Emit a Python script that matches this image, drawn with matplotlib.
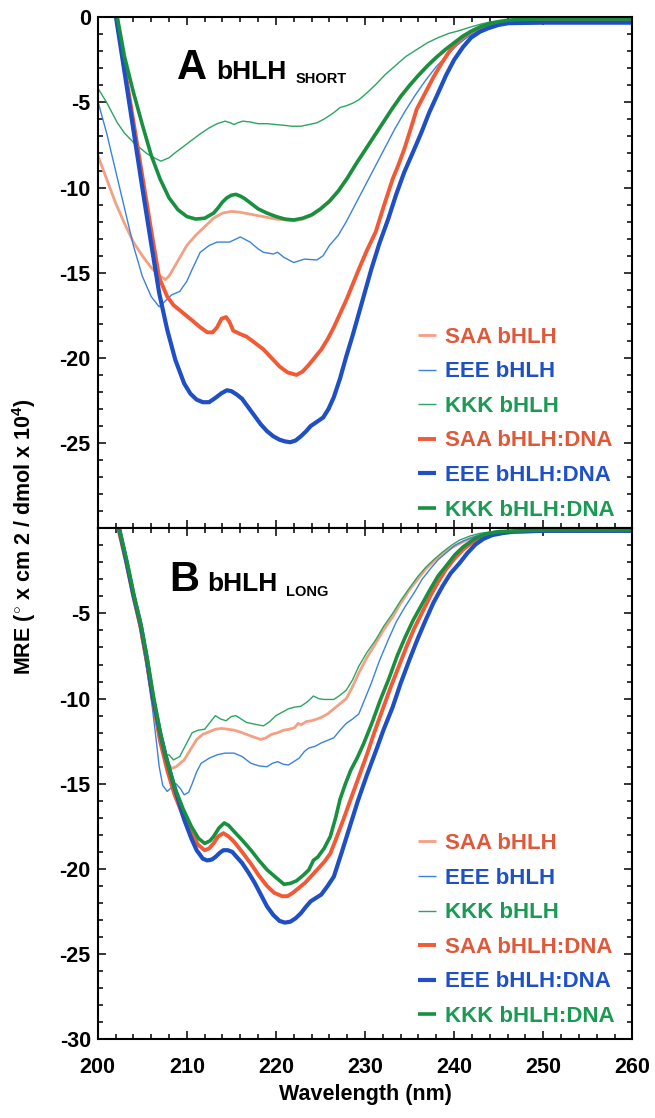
import matplotlib
matplotlib.use('Agg')
from matplotlib import pyplot as plt
from matplotlib.ticker import MultipleLocator, FixedLocator

plt.rcParams['font.family'] = ['Liberation Sans', 'DejaVu Sans']
plt.rcParams['font.weight'] = 'bold'
plt.rcParams['mathtext.fontset'] = 'custom'
plt.rcParams['mathtext.rm'] = 'Liberation Sans:bold'
plt.rcParams['mathtext.bf'] = 'Liberation Sans:bold'
plt.rcParams['mathtext.it'] = 'Liberation Sans:bold'

labels = ['SAA bHLH', 'EEE bHLH', 'KKK bHLH',
          'SAA bHLH:DNA', 'EEE bHLH:DNA', 'KKK bHLH:DNA']

# ---- panel A (bHLH short) ----
a_saa_x = [200, 201, 202, 203, 204, 205, 206, 207, 207.6, 208, 209, 210, 211, 212, 213, 214, 215, 216,
           217, 218, 219, 220, 221, 222, 223, 224, 225, 226, 227, 228, 229, 230, 231, 232, 233, 234,
           235, 236, 237, 238, 239, 240, 241, 242, 243, 244, 245, 246, 247, 248, 250, 255, 260]
a_saa_y = [-8.1, -9.5, -10.9, -12.1, -13.2, -14.0, -14.7, -15.2, -15.4, -15.2, -14.3, -13.4, -12.8, -12.3,
           -11.8, -11.5, -11.4, -11.45, -11.55, -11.65, -11.75, -11.85, -11.9, -11.95, -11.85, -11.65,
           -11.3, -10.85, -10.25, -9.5, -8.65, -7.85, -7.05, -6.25, -5.45, -4.7, -4.05, -3.45, -2.9,
           -2.4, -1.95, -1.55, -1.15, -0.85, -0.6, -0.42, -0.3, -0.2, -0.15, -0.12, -0.1, -0.1, -0.1]

a_eee_x = [200, 201, 202, 203, 204, 205, 206, 206.9, 207.5, 208.3, 209.2, 210, 210.6, 211.5, 212.5,
           213.4, 214.8, 216, 217.1, 218, 218.6, 219.7, 220.2, 220.9, 222, 223.2, 224.6, 225.3, 226,
           227, 227.9, 229, 229.8, 231, 232.1, 233.3, 234.4, 235.6, 236.8, 238, 239.1, 240.2, 241.4,
           242.6, 243.8, 245, 246.1, 247.5, 250, 260]
a_eee_y = [-4.9, -6.8, -9.0, -11.2, -13.4, -15.2, -16.4, -17.0, -16.7, -16.3, -16.1, -15.5, -14.8,
           -13.8, -13.4, -13.2, -13.2, -12.9, -13.2, -13.6, -13.8, -13.9, -13.8, -14.1, -14.4, -14.2,
           -14.25, -14.0, -13.4, -12.8, -12.0, -10.9, -10.1, -8.9, -7.8, -6.6, -5.6, -4.6, -3.7, -2.9,
           -2.3, -1.7, -1.2, -0.8, -0.55, -0.35, -0.25, -0.15, -0.12, -0.12]

a_kkk_x = [200, 201, 202.2, 203, 204.1, 205.5, 206.5, 207.1, 208, 208.7, 209.6, 210.6, 211.5, 212.5,
           213.4, 214.3, 214.9, 215.3, 215.7, 216.3, 217.1, 218, 219, 220, 221, 221.8, 222.8, 223.7,
           224.6, 225.5, 226.5, 227.2, 227.9, 228.6, 229.3, 230.2, 231.2, 232.3, 233.5, 234.6, 235.8,
           237, 238.2, 239.4, 240.5, 241.7, 242.9, 244, 245.2, 246.5, 248, 250, 260]
a_kkk_y = [-4.15, -5.0, -6.2, -6.8, -7.4, -8.0, -8.3, -8.45, -8.25, -7.95, -7.6, -7.2, -6.85, -6.5,
           -6.25, -6.1, -6.2, -6.3, -6.2, -6.1, -6.15, -6.25, -6.25, -6.3, -6.35, -6.4, -6.4, -6.3,
           -6.2, -5.95, -5.6, -5.3, -5.2, -5.05, -4.85, -4.45, -3.95, -3.35, -2.8, -2.3, -1.9, -1.5,
           -1.2, -0.95, -0.8, -0.6, -0.42, -0.28, -0.2, -0.15, -0.12, -0.1, -0.1]

a_saa_dna_x = [201.6, 202.1, 203, 204, 205, 206, 206.9, 207.8, 208.5, 209.2, 210.6, 211.5, 212.3,
               212.9, 213.4, 213.9, 214.4, 214.8, 215.2, 216, 216.7, 217.6, 218.6, 219.5, 220.4, 221.3,
               222.3, 223, 223.7, 224.4, 225.1, 225.8, 226.5, 227.2, 227.9, 228.6, 229.3, 230.2, 231.2,
               232.1, 233.1, 233.8, 234.4, 235.1, 235.8, 236.8, 237.7, 238.6, 239.6, 240.7, 241.9,
               243.1, 244.3, 246.1, 250, 260]
a_saa_dna_y = [1.5, 0, -2.9, -6.1, -9.3, -12.5, -15.3, -16.4, -16.9, -17.2, -17.8, -18.2, -18.5, -18.5,
               -18.2, -17.7, -17.6, -17.9, -18.4, -18.6, -18.75, -19.1, -19.5, -20.0, -20.5, -20.85,
               -21.0, -20.8, -20.4, -19.95, -19.5, -18.9, -18.2, -17.4, -16.6, -15.7, -14.8, -13.7,
               -12.6, -11.1, -9.5, -8.6, -7.75, -6.6, -5.4, -4.4, -3.5, -2.7, -1.9, -1.3, -0.84, -0.55,
               -0.4, -0.25, -0.22, -0.22]

a_eee_dna_x = [201.6, 202.05, 203, 204, 205, 206, 206.9, 207.8, 208.7, 209.7, 210.4, 211.1, 211.8,
               212.5, 213.2, 213.9, 214.5, 215, 215.6, 216.2, 216.9, 217.6, 218.3, 219, 219.7, 220.4,
               221, 221.6, 222.2, 222.8, 223.4, 223.9, 224.6, 225.3, 225.9, 226.5, 227.2, 227.9, 228.6,
               229.3, 230, 230.7, 231.6, 232.6, 233.5, 234.4, 235.4, 236.3, 237.2, 238.2, 239.1, 240,
               241, 241.9, 242.9, 243.8, 245, 246.1, 250, 260]
a_eee_dna_y = [1.5, 0, -3.2, -6.6, -10.0, -13.3, -16.2, -18.35, -20.1, -21.5, -22.1, -22.45, -22.6,
               -22.6, -22.35, -22.07, -21.9, -21.95, -22.15, -22.4, -22.9, -23.4, -23.9, -24.3, -24.6,
               -24.8, -24.9, -24.95, -24.85, -24.6, -24.3, -24.0, -23.75, -23.5, -23.0, -22.3, -21.2,
               -19.9, -18.7, -17.4, -16.1, -14.8, -13.3, -11.85, -10.4, -9.1, -7.9, -6.8, -5.6, -4.45,
               -3.4, -2.5, -1.75, -1.2, -0.85, -0.65, -0.45, -0.35, -0.32, -0.32]

a_kkk_dna_x = [201.7, 202.2, 203, 204, 205, 206, 207, 208, 209, 210, 211, 212, 213, 213.5, 214, 214.5,
               215, 215.5, 216, 216.5, 217, 218, 219, 220, 221, 222, 223, 224, 225, 226, 227, 228, 229,
               230, 231, 232, 233, 234, 235, 236, 237, 238, 239, 240, 241, 242, 243, 244, 245, 246,
               247, 248, 250, 255, 260]
a_kkk_dna_y = [1.2, 0, -2.3, -4.4, -6.3, -8.1, -9.5, -10.6, -11.3, -11.7, -11.85, -11.8, -11.5, -11.2,
               -10.85, -10.6, -10.45, -10.4, -10.5, -10.65, -10.85, -11.25, -11.5, -11.7, -11.85,
               -11.9, -11.8, -11.6, -11.25, -10.8, -10.2, -9.45, -8.6, -7.8, -7.0, -6.2, -5.4, -4.65,
               -4.0, -3.4, -2.85, -2.35, -1.9, -1.5, -1.1, -0.8, -0.55, -0.38, -0.26, -0.18, -0.14,
               -0.12, -0.1, -0.1, -0.1]

# ---- panel B (bHLH long) ----
b_saa_x = [201.8, 202.3, 203.2, 204, 204.8, 205.5, 206.2, 206.9, 207.6, 208.3, 208.8, 209.7, 210.4,
           211.1, 211.8, 212.5, 213.2, 213.9, 214.6, 215.3, 216.2, 217.2, 218.3, 218.9, 219.5, 220.2,
           220.9, 221.5, 222.1, 222.5, 222.8, 223.4, 224, 224.6, 225.1, 225.8, 226.5, 227.2, 227.9,
           228.6, 229.3, 230.2, 231.2, 232.1, 233.1, 234, 235, 235.9, 236.8, 237.8, 238.7, 239.7,
           240.6, 241.8, 242.9, 245.3, 250, 260]
b_saa_y = [1.5, 0, -2.0, -4.0, -5.9, -8.0, -10.2, -12.3, -13.6, -14.1, -14.0, -13.6, -13.0, -12.4,
           -12.1, -11.95, -11.8, -11.75, -11.8, -11.85, -12.0, -12.2, -12.4, -12.3, -12.1, -12.0,
           -11.85, -11.8, -11.7, -11.45, -11.55, -11.35, -11.3, -11.2, -11.1, -10.9, -10.6, -10.3,
           -10.0, -9.3, -8.5, -7.6, -6.75, -5.95, -5.2, -4.4, -3.6, -3.0, -2.4, -1.9, -1.5, -1.15,
           -0.9, -0.6, -0.4, -0.2, -0.12, -0.12]

b_eee_x = [201.8, 202.3, 203.1, 203.9, 204.7, 205.4, 206.1, 206.6, 206.9, 207.3, 207.8, 208.3, 208.8,
           209.3, 209.7, 210.2, 210.6, 211.1, 211.6, 212.5, 213.4, 214.3, 215.3, 216.2, 217.2, 218.1,
           219, 219.6, 220.2, 220.8, 221.4, 222, 222.6, 223.2, 223.7, 224.4, 225.1, 225.8, 226.5,
           227.2, 227.9, 228.6, 229.3, 230, 230.7, 231.6, 232.6, 233.5, 234.5, 235.5, 236.4, 237.3,
           238.2, 239.2, 240.1, 241, 242, 243.1, 244.3, 246, 250, 260]
b_eee_y = [1.5, 0, -1.9, -3.9, -5.8, -7.9, -10.4, -12.6, -14.0, -15.1, -15.45, -15.2, -15.0, -15.3,
           -15.65, -15.5, -15.0, -14.3, -13.8, -13.5, -13.3, -13.2, -13.2, -13.4, -13.8, -13.95,
           -14.0, -13.8, -13.7, -13.85, -13.9, -13.7, -13.5, -13.1, -12.9, -12.8, -12.6, -12.45,
           -12.3, -11.85, -11.45, -11.2, -10.9, -10.0, -9.1, -7.8, -6.55, -5.5, -4.6, -3.8, -3.0,
           -2.4, -1.85, -1.4, -1.0, -0.75, -0.55, -0.35, -0.2, -0.15, -0.12, -0.12]

b_kkk_x = [201.8, 202.3, 203.2, 204, 204.8, 205.5, 206.2, 206.9, 207.5, 208, 208.5, 209.2, 209.9,
           210.6, 211.3, 212, 212.6, 213.2, 213.8, 214.4, 215, 215.5, 216.1, 216.7, 217.6, 218.6,
           219.3, 220, 220.7, 221.4, 222.1, 222.8, 223.5, 224.2, 224.8, 225.4, 226, 226.5, 227.2,
           227.9, 228.6, 229.3, 230.2, 231.2, 232.1, 233.1, 234, 235, 235.9, 236.8, 237.8, 238.7,
           239.7, 240.6, 241.8, 242.9, 245, 250, 260]
b_kkk_y = [1.5, 0, -2.0, -4.0, -5.9, -8.0, -10.2, -12.3, -13.4, -13.3, -13.6, -13.4, -12.7, -12.0,
           -11.85, -11.8, -11.4, -11.0, -11.2, -11.3, -11.05, -11.0, -11.2, -11.4, -11.5, -11.6,
           -11.35, -11.0, -10.8, -10.6, -10.5, -10.45, -10.2, -9.85, -10.0, -10.05, -10.05, -10.05,
           -9.8, -9.5, -8.9, -8.1, -7.3, -6.55, -5.75, -5.0, -4.25, -3.5, -2.85, -2.3, -1.8, -1.4,
           -1.0, -0.7, -0.45, -0.3, -0.15, -0.1, -0.1]

b_saa_dna_x = [201.8, 202.3, 203.2, 204, 204.8, 205.5, 206.2, 207, 207.8, 208.6, 209.5, 210.5, 211.3,
               212, 212.5, 213, 213.5, 214.1, 214.7, 215.3, 216.2, 217.2, 218.1, 219, 219.8, 220.7,
               221.3, 221.9, 222.6, 223.3, 224, 224.7, 225.4, 226.1, 226.7, 227.5, 228.4, 229.3,
               230.2, 231.1, 232, 232.9, 233.8, 234.7, 235.5, 236.4, 237.3, 238.2, 239.1, 240.1, 241,
               242, 243.1, 244.3, 246, 250, 260]
b_saa_dna_y = [1.5, 0, -2.0, -4.0, -5.8, -7.8, -10.1, -12.5, -14.2, -15.6, -16.8, -17.9, -18.6, -18.9,
               -18.8, -18.5, -18.1, -17.9, -18.1, -18.4, -19.0, -19.7, -20.4, -21.0, -21.4, -21.6,
               -21.6, -21.4, -21.1, -20.8, -20.4, -20.0, -19.6, -19.1, -18.3, -17.2, -15.9, -14.6,
               -13.3, -11.9, -10.6, -9.3, -8.1, -6.9, -5.9, -4.95, -4.0, -3.15, -2.4, -1.75, -1.25,
               -0.85, -0.55, -0.35, -0.22, -0.15, -0.15]

b_eee_dna_x = [201.8, 202.4, 203.2, 204, 204.8, 205.5, 206.2, 207, 207.6, 208.5, 209.7, 210.5, 211.1,
               211.8, 212.3, 212.8, 213.2, 213.7, 214.1, 214.6, 215.1, 215.6, 216.2, 216.9, 217.6,
               218.3, 219, 219.7, 220.4, 221, 221.6, 222.2, 222.8, 223.4, 223.9, 224.5, 225.1, 225.8,
               226.5, 227.4, 228.3, 229.2, 230.2, 231.2, 232.1, 233.1, 234, 235, 235.9, 236.8, 237.7,
               238.7, 239.6, 240.6, 241.5, 242.4, 243.3, 244.3, 245.5, 246.7, 250, 260]
b_eee_dna_y = [1.5, 0, -1.9, -3.9, -5.6, -7.6, -10.0, -12.0, -13.3, -15.0, -17.1, -18.2, -18.9, -19.4,
               -19.5, -19.45, -19.3, -19.05, -18.9, -18.9, -19.0, -19.3, -19.65, -20.2, -20.8, -21.5,
               -22.2, -22.7, -23.05, -23.15, -23.1, -22.9, -22.6, -22.2, -21.9, -21.7, -21.5, -21.0,
               -20.45, -19.0, -17.5, -16.0, -14.5, -13.1, -11.8, -10.5, -9.1, -7.7, -6.5, -5.4, -4.35,
               -3.4, -2.65, -2.05, -1.45, -0.95, -0.62, -0.4, -0.28, -0.2, -0.15, -0.15]

b_kkk_dna_x = [201.8, 202.4, 203.3, 204.1, 204.9, 205.6, 206.3, 207.1, 207.9, 208.7, 209.6, 210.5,
               211.3, 212, 212.6, 213, 213.6, 214.2, 214.7, 215.3, 216.2, 217.2, 218.1, 219, 220,
               220.9, 221.6, 222.3, 223, 223.7, 224.2, 224.7, 225.4, 226.1, 226.7, 227.2, 227.8, 228.4,
               229.1, 229.8, 230.8, 231.7, 232.7, 233.6, 234.5, 235.4, 236.4, 237.3, 238.2, 239.2,
               240.1, 241, 242.2, 243.4, 245, 250, 260]
b_kkk_dna_y = [1.5, 0, -2.0, -4.0, -5.8, -7.8, -10.0, -12.2, -13.9, -15.3, -16.5, -17.5, -18.2, -18.5,
               -18.35, -18.1, -17.6, -17.3, -17.45, -17.8, -18.3, -18.9, -19.5, -20.05, -20.5, -20.9,
               -20.85, -20.7, -20.4, -20.05, -19.5, -19.3, -18.8, -18.1, -17.0, -15.9, -15.0, -14.2,
               -13.5, -12.7, -11.4, -10.1, -8.8, -7.5, -6.4, -5.4, -4.45, -3.6, -2.8, -2.15, -1.55,
               -1.1, -0.65, -0.35, -0.2, -0.1, -0.1]

line_colors = ['#f4a082', '#3a82e0', '#2ca562', '#f25a36', '#1f4fc4', '#17913f']
line_widths = [2.0, 1.0, 1.0, 2.8, 3.0, 2.6]
text_colors = ['#e0583a', '#1e50c8', '#1a9a52', '#e0583a', '#1e50c8', '#1a9a52']

panels = [
    ([(a_saa_x, a_saa_y), (a_eee_x, a_eee_y), (a_kkk_x, a_kkk_y),
      (a_saa_dna_x, a_saa_dna_y), (a_eee_dna_x, a_eee_dna_y), (a_kkk_dna_x, a_kkk_dna_y)],
     'A', 'SHORT', [0, -5, -10, -15, -20, -25]),
    ([(b_saa_x, b_saa_y), (b_eee_x, b_eee_y), (b_kkk_x, b_kkk_y),
      (b_saa_dna_x, b_saa_dna_y), (b_eee_dna_x, b_eee_dna_y), (b_kkk_dna_x, b_kkk_dna_y)],
     'B', 'LONG', [-5, -10, -15, -20, -25, -30]),
]

fig = plt.figure(figsize=(6.55, 11.18), dpi=100)
axes = [fig.add_axes([0.1492, 0.5275, 0.8162, 0.4571]),
        fig.add_axes([0.1492, 0.0704, 0.8162, 0.4571])]

# letter / bHLH / subscript positions (data coords)
letter_pos = [(208.9, -3.6), (208.0, -3.7)]
bhlh_pos = [(213.3, -3.6), (212.3, -3.7)]
sub_pos = [(222.2, -3.85), (221.1, -3.95)]
legend_y = [0.015, 0.024]

for i, (ax, (series, letter, sub, yt)) in enumerate(zip(axes, panels)):
    for (x, y), c, lw, lab in zip(series, line_colors, line_widths, labels):
        ax.plot(x, y, color=c, lw=lw, label=lab, solid_capstyle='butt')
    ax.set_xlim(200, 260)
    ax.set_ylim(-30, 0)
    ax.xaxis.set_major_locator(MultipleLocator(10))
    ax.xaxis.set_minor_locator(MultipleLocator(2))
    ax.yaxis.set_major_locator(FixedLocator(yt))
    ax.yaxis.set_minor_locator(MultipleLocator(1))
    ax.tick_params(which='both', direction='in', top=True, right=True, width=1.1, labelsize=15.5)
    ax.tick_params(which='major', length=6)
    ax.tick_params(which='minor', length=3.5)
    ax.tick_params(axis='y', pad=5)
    ax.tick_params(axis='x', pad=13)
    for s in ax.spines.values():
        s.set_linewidth(1.5)
    ax.set_yticklabels([str(v) for v in yt])
    if i == 0:
        ax.tick_params(axis='x', labelbottom=False)
    ax.text(*letter_pos[i], letter, fontsize=30, fontweight='bold', va='baseline')
    ax.text(*bhlh_pos[i], 'bHLH', fontsize=19, fontweight='bold', va='baseline')
    ax.text(*sub_pos[i], sub, fontsize=10.5, fontweight='bold', va='baseline')
    leg = ax.legend(loc='lower left', bbox_to_anchor=(0.6, legend_y[i]), frameon=False, fontsize=16,
                    handlelength=0.8, handletextpad=0.4, labelspacing=0.61, borderpad=0,
                    borderaxespad=0)
    for t, c in zip(leg.get_texts(), text_colors):
        t.set_color(c)

axes[1].set_xlabel('Wavelength (nm)', fontsize=15.5, fontweight='bold', labelpad=4)
fig.text(0.036, 0.52, r'MRE ($^{\circ}$ x cm 2 / dmol x 10$^{4}$)', rotation=90,
         fontsize=15.5, fontweight='bold', ha='center', va='center')

plt.savefig('out.png', dpi=100)
